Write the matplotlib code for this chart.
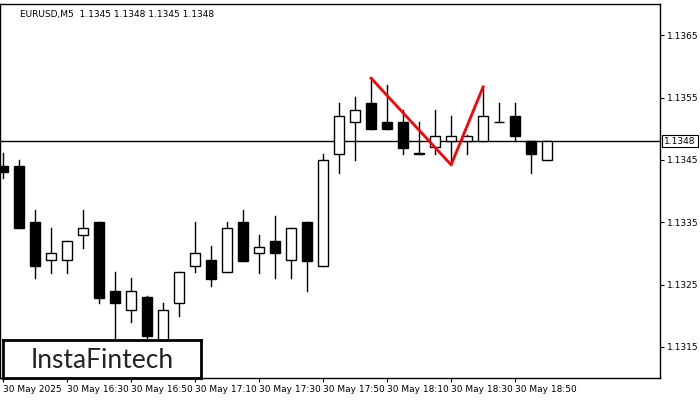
import matplotlib.pyplot as plt
from matplotlib.patches import Rectangle

opens = [1.13440, 1.13440, 1.13351, 1.13289, 1.13289, 1.13329, 1.13351, 1.13240, 1.13209, 1.13230,
         1.13160, 1.13220, 1.13279, 1.13289, 1.13270, 1.13351, 1.13300, 1.13320, 1.13289, 1.13351,
         1.13279, 1.13460, 1.13510, 1.13541, 1.13510, 1.13510, 1.13460, 1.13470, 1.13480, 1.13480,
         1.13480, 1.13510, 1.13520, 1.13480, 1.13450]
highs = [1.13461, 1.13450, 1.13370, 1.13341, 1.13320, 1.13370, 1.13351, 1.13270, 1.13261, 1.13232,
         1.13220, 1.13270, 1.13351, 1.13311, 1.13351, 1.13370, 1.13329, 1.13360, 1.13340, 1.13351,
         1.13460, 1.13541, 1.13551, 1.13581, 1.13570, 1.13530, 1.13510, 1.13530, 1.13520, 1.13490,
         1.13567, 1.13541, 1.13541, 1.13480, 1.13480]
lows = [1.13421, 1.13341, 1.13260, 1.13269, 1.13269, 1.13309, 1.13220, 1.13100, 1.13190, 1.13160,
        1.13150, 1.13199, 1.13270, 1.13248, 1.13270, 1.13288, 1.13269, 1.13260, 1.13260, 1.13239,
        1.13279, 1.13429, 1.13449, 1.13500, 1.13500, 1.13459, 1.13460, 1.13460, 1.13442, 1.13460,
        1.13480, 1.13510, 1.13480, 1.13429, 1.13450]
closes = [1.13430, 1.13341, 1.13279, 1.13300, 1.13320, 1.13340, 1.13229, 1.13220, 1.13240, 1.13168,
          1.13209, 1.13270, 1.13300, 1.13259, 1.13340, 1.13288, 1.13310, 1.13300, 1.13340, 1.13288,
          1.13450, 1.13520, 1.13530, 1.13500, 1.13500, 1.13469, 1.13460, 1.13489, 1.13489, 1.13489,
          1.13520, 1.13510, 1.13489, 1.13460, 1.13480]
time_labels = ['30 May 2025', '30 May 16:30', '30 May 16:50', '30 May 17:10', '30 May 17:30',
               '30 May 17:50', '30 May 18:10', '30 May 18:30', '30 May 18:50']
price_ticks = [1.1315, 1.1325, 1.1335, 1.1345, 1.1355, 1.1365]
last_price = 1.1348
pattern_idx = [23, 28, 30]
pattern_price = [1.13581, 1.13442, 1.13567]

fig = plt.figure(figsize=(7, 4), dpi=100)
ax = fig.add_axes([0.0, 0.055, 0.943, 0.935])

w = 0.62
for i, (o, h, l, c) in enumerate(zip(opens, highs, lows, closes)):
    ax.plot([i, i], [l, h], color='black', lw=1, zorder=2)
    bottom = min(o, c)
    height = max(abs(c - o), 0.000004)
    face = 'white' if c >= o else 'black'
    ax.add_patch(Rectangle((i - w / 2, bottom), w, height, facecolor=face,
                           edgecolor='black', lw=1, zorder=3))

ax.axhline(last_price, color='black', lw=1, zorder=1)
ax.plot(pattern_idx, pattern_price, color='red', lw=2, zorder=4)

ax.set_xlim(-0.19, 41.06)
ax.set_ylim(1.1310, 1.1370)
ax.set_xticks([4 * k for k in range(len(time_labels))])
ax.set_xticklabels(time_labels, fontsize=6.5, ha='left')
ax.set_yticks(price_ticks)
ax.set_yticklabels([f'{p:.4f}' for p in price_ticks], fontsize=6.5)
ax.yaxis.tick_right()
ax.tick_params(axis='both', length=3, pad=2)
for s in ax.spines.values():
    s.set_linewidth(1)

ax.text(0.03, 0.985, 'EURUSD,M5  1.1345 1.1348 1.1345 1.1348', transform=ax.transAxes,
        fontsize=6.5, va='top', ha='left')

ax.annotate(f'{last_price:.4f}', xy=(1.0, last_price), xycoords=('axes fraction', 'data'),
            xytext=(3, 0), textcoords='offset points', fontsize=6.5, va='center', ha='left',
            bbox=dict(boxstyle='square,pad=0.2', fc='white', ec='black', lw=0.8),
            annotation_clip=False)

logo = fig.add_axes([3 / 700, 22 / 400, 198 / 700, 38 / 400])
logo.set_xticks([])
logo.set_yticks([])
for s in logo.spines.values():
    s.set_linewidth(2)
logo.text(0.5, 0.47, 'InstaFintech', fontsize=19, ha='center', va='center',
          color='#222222', family='Lato')

fig.savefig('out.png', dpi=100)
